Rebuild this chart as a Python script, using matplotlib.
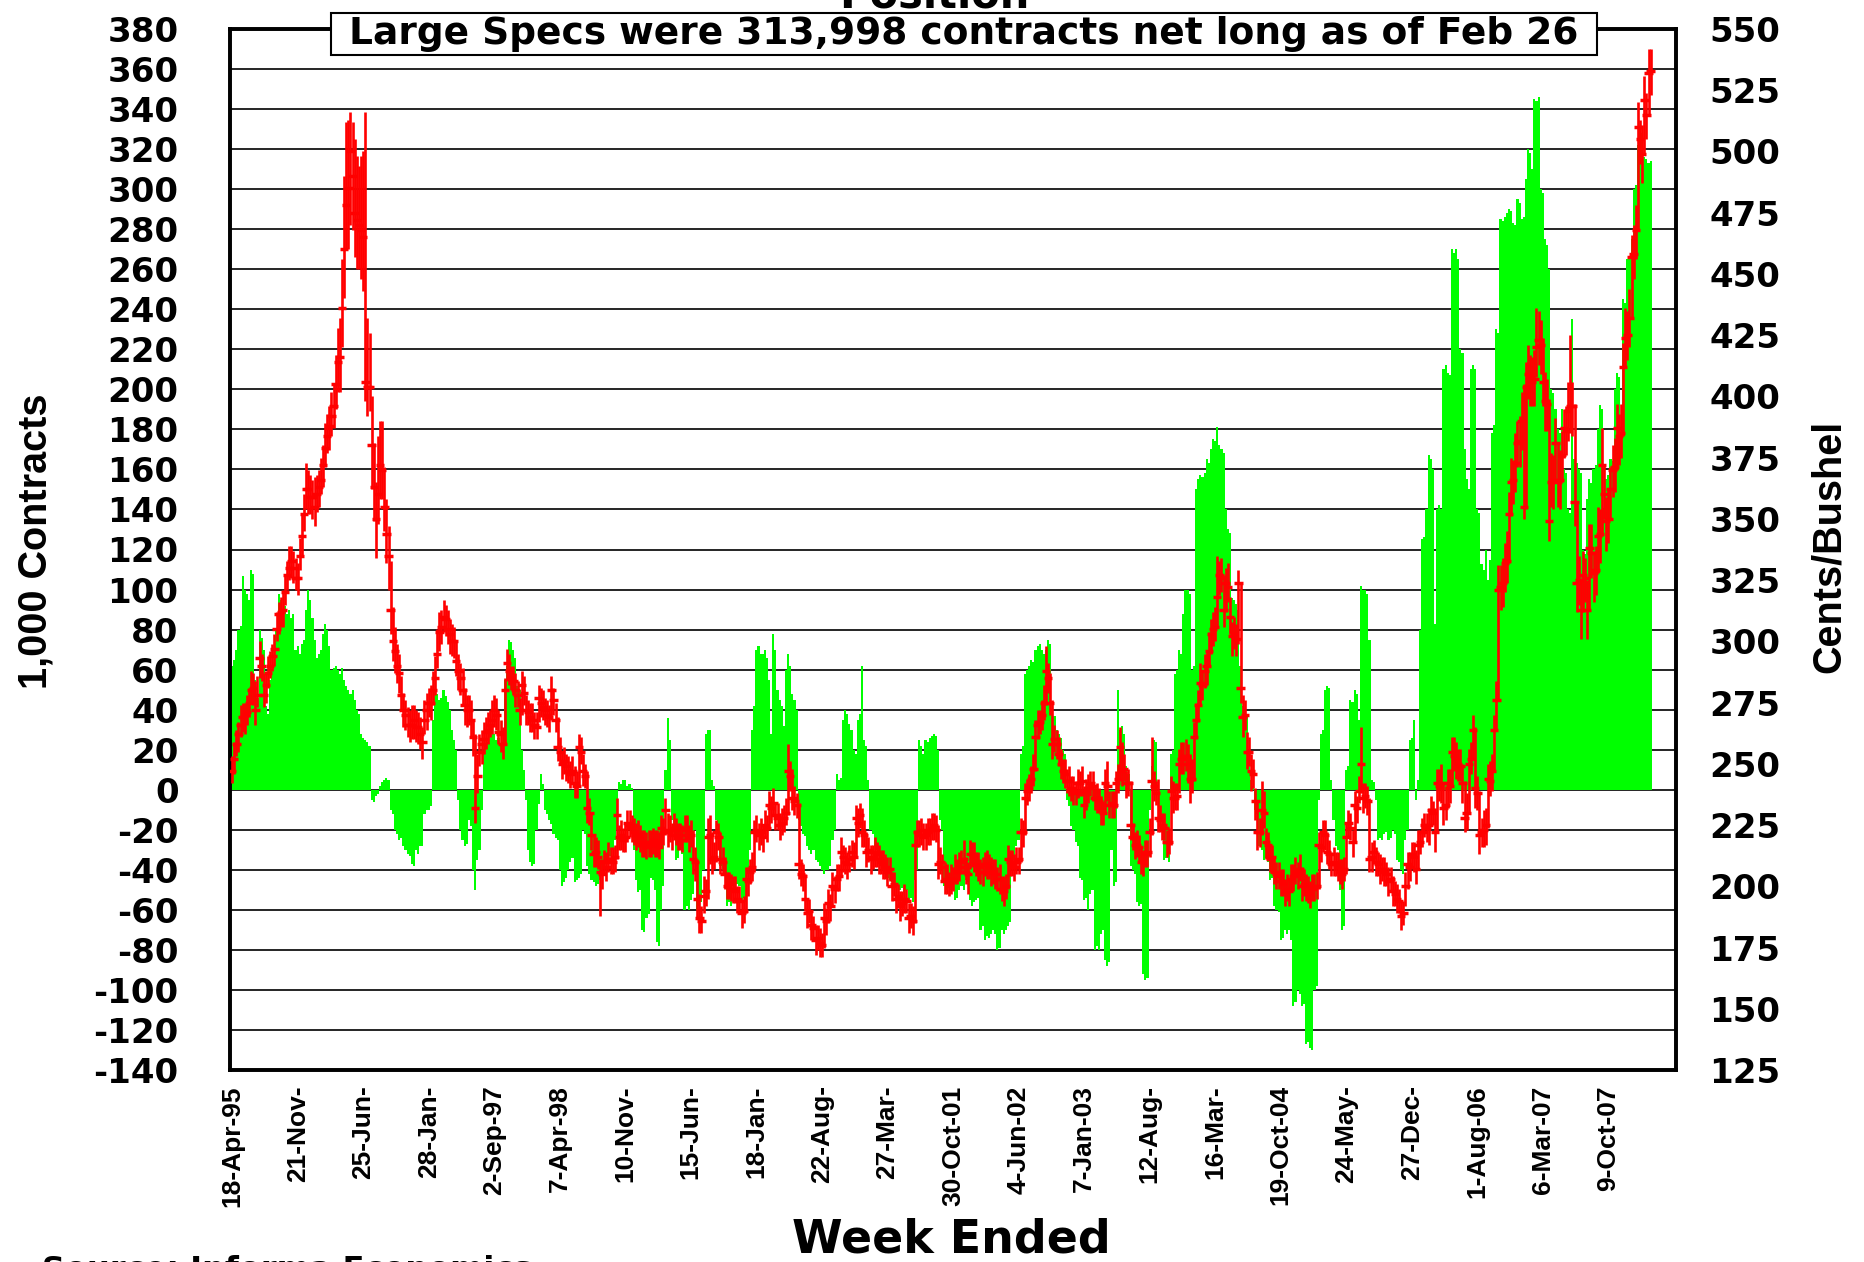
import matplotlib
matplotlib.use("Agg")
import matplotlib.pyplot as plt
import numpy as np
from matplotlib.patches import Rectangle

plt.rcParams['font.family'] = 'DejaVu Sans'
plt.rcParams['font.weight'] = 'bold'
plt.rcParams['axes.unicode_minus'] = False

# narrower face for the rotated texts
narrow = 'Liberation Sans'

# weekly data, 18-Apr-95 .. 26-Feb-08
# large spec net position, 1,000 contracts
net_long = [
    62, 65, 70, 80, 82, 107, 100, 98, 95, 110,
    108, 55, 46, 80, 76, 70, 42, 38, 55, 60,
    62, 80, 98, 95, 90, 92, 88, 90, 86, 88,
    70, 72, 68, 73, 75, 90, 100, 95, 86, 75,
    66, 68, 70, 78, 83, 80, 72, 60, 61, 62,
    60, 58, 61, 55, 52, 50, 48, 50, 45, 40,
    38, 28, 26, 25, 24, 22, -5, -6, -3, -2,
    2, 4, 5, 6, 5, -10, -12, -20, -22, -25,
    -24, -28, -30, -32, -33, -37, -38, -30, -32, -28,
    -28, -12, -10, -10, -8, 35, 50, 48, 45, 46,
    50, 47, 44, 40, 30, 25, 20, -5, -20, -25,
    -28, -27,
    -15, -18, -40, -50, -35, -30, -10, 18, 22, 24,
    33, 32, 28, 25, 26, 22, 24, 55, 62, 75,
    74, 70, 66, 52, 50, 20, 10, -5, -30, -36,
    -38, -37, -20, -7, 8, 3, -10, -12, -15, -17,
    -22, -24, -25, -40, -48, -46, -44, -40, -36, -34,
    -46, -45, -44, -42, -20, -22, -38, -42, -45, -46,
    -48, -47, -45, -40, -38, -37, -34, -33, -30, -25,
    -20, 4, 3, 5, 5, 2, 3, 1, -30, -45,
    -51, -50, -70, -71, -64, -62, -44, -45, -50, -76,
    -78, -60, -48, 10, 36, 25, -15, -20, -35, -34,
    -30, -32, -60, -58, -60, -55, -52, -20, -60, -58,
    -56, -40, 28, 30,
    30, 5, 2, -15, -18, -38, -40, -42, -58, -56,
    -58, -48, -50, -47, -48, -55, -54, -56, -40, -30,
    30, 42, 70, 72, 68, 68, 70, 66, 55, 28,
    78, 70, 50, 45, 42, 32, 60, 68, 62, 48,
    45, 40, -15, -18, -22, -23, -28, -30, -32, -30,
    -35, -36, -38, -40, -42, -40, -40, -38, -25, -20,
    8, 5, 6, 35, 40, 38, 33, 30, 20, 18,
    35, 38, 62, 25, 22, 5, -20, -22, -28, -30,
    -32, -38, -40, -42, -44, -45, -46, -48, -47, -48,
    -50, -49, -51, -50, -55, -54, -56, -45, -40, 25,
    22, 18, 25, 24, 26, 27, 28, 27, 20, -15,
    -20, -48, -50, -49, -50,
    -50, -55, -54, -50, -48, -50, -45, -46, -55, -58,
    -56, -55, -54, -70, -68, -75, -73, -74, -72, -70,
    -72, -80, -79, -70, -72, -70, -68, -66, -38, -35,
    -28, -25, 18, 22, 58, 60, 62, 65, 64, 70,
    72, 73, 70, 68, 70, 75, 73, 40, 37, 30,
    28, 26, 20, 18, -5, -8, -18, -20, -26, -28,
    -44, -45, -55, -54, -60, -52, -50, -80, -78, -80,
    -72, -70, -85, -88, -86, -30, -48, -46, 50, 30,
    32, 28, 12, 8, -38, -40, -42, -56, -58, -57,
    -92, -95, -94, -10, 12, 25, 24, 0, -14, -15,
    -35, -34, -36, 18, 20, 58, 60, 70, 68, 88, 100,
    100, 98, 60, 62, 150, 155, 157, 156, 158, 165,
    163, 170, 175, 174, 181, 172, 170, 168, 140, 130,
    128, 96, 95, 93, 90, 62, 42, 40, 38, 20,
    5, 2, -10, -12, -28, -30, -35, -34, -36, -45,
    -44, -58, -60, -61, -75, -74, -70, -72, -70, -75,
    -108, -106, -100, -102, -108, -107, -127, -126, -129, -130,
    -100, -98, -5, 28, 30, 50, 52, 51, 5, -15,
    -28, -30, -50, -70, -68, 10, 12, 45, 44, 50,
    48, 35, 102, 100, 100, 98, 75, 5, 4, -5,
    -25, -24, -25, -22, -21, -25, -24, -20, -22, -35,
    -36, -40, -42, -25, -20, 25, 26, 35, -5, 5,
    80, 125, 126, 140, 167,
    165, 160, 83, 140, 142, 140, 210, 212, 208, 207,
    270, 268, 270, 265, 220, 218, 170, 155, 150, 210,
    212, 210, 140, 138, 113, 110, 120, 105, 115, 178,
    182, 230, 228, 285, 284, 286, 288, 290, 289, 283,
    282, 295, 293, 285, 286, 305, 320, 318, 310, 345,
    344, 346, 300, 298, 275, 272, 260, 200, 198, 190,
    180, 178, 190, 160, 158, 140, 138, 235, 165, 163,
    160, 158, 120, 118, 145, 155, 153, 160, 162, 180,
    192, 190, 140, 155, 157, 165, 164, 200, 208, 206,
    178, 245, 243, 265, 266, 275, 300, 302, 322, 330,
    328, 316, 315, 313, 314,
]

# weekly close, cents/bushel
price_close = [
    247, 252, 258, 262, 266, 269, 270, 271, 275, 280,
    281, 272, 278, 293, 290, 278, 282, 287, 290, 294,
    297, 305, 311, 312, 313, 320, 327, 330, 333, 330,
    326, 326, 335, 343, 352, 362, 362, 359, 359, 355,
    360, 363, 366, 372, 379, 384, 388, 392, 396, 405,
    414, 416, 436, 460, 478, 485, 500, 490, 475, 472,
    470, 468, 465, 406, 404, 404, 380, 363, 350, 360,
    372, 370, 355, 344, 335, 313, 300, 296, 290, 287,
    278, 272, 270, 266, 266, 266, 268, 265, 265, 262,
    259, 268, 272, 275, 275, 280, 285, 295, 304, 306,
    310, 309, 305, 303, 300, 300, 292, 288, 285, 280,
    274, 272,
    272, 268, 261, 232, 245, 255, 258, 260, 263, 264,
    266, 268, 272, 270, 263, 262, 258, 280, 291, 288,
    285, 284, 280, 278, 272, 282, 279, 272, 271, 269,
    268, 266, 265, 277, 275, 273, 272, 270, 269, 280,
    276, 268, 257, 255, 250, 251, 249, 247, 246, 247,
    242, 241, 257, 255, 247, 245, 232, 230, 221, 213,
    214, 212, 206, 205, 210, 208, 211, 211, 210, 212,
    229, 220, 221, 219, 220, 226, 225, 224, 222, 221,
    221, 220, 217, 218, 216, 218, 217, 219, 217, 218,
    216, 224, 222, 231, 222, 223, 221, 224, 223, 220,
    221, 219, 224, 223, 220, 221, 211, 210, 195, 187,
    186, 196, 198, 220,
    221, 211, 212, 222, 220, 211, 210, 205, 200, 201,
    199, 199, 198, 195, 194, 189, 190, 203, 202, 206,
    208, 222, 223, 221, 222, 220, 225, 224, 233, 232,
    234, 229, 228, 225, 226, 228, 230, 247, 245, 236,
    235, 233, 209, 205, 204, 195, 189, 190, 184, 183,
    178, 179, 177, 176, 187, 186, 193, 192, 200, 199,
    203, 204, 214, 212, 210, 209, 211, 214, 212, 228,
    226, 229, 222, 221, 214, 215, 211, 212, 214, 213,
    211, 210, 209, 208, 206, 207, 200, 201, 195, 196,
    192, 193, 195, 194, 187, 188, 186, 217, 222, 221,
    223, 220, 221, 222, 223, 224, 225, 223, 209, 210,
    208, 202, 203, 201, 203,
    203, 207, 206, 208, 210, 211, 206, 205, 213, 213,
    212, 209, 208, 206, 206, 209, 209, 208, 206, 206,
    205, 203, 203, 199, 198, 200, 211, 210, 209, 208,
    210, 211, 222, 222, 236, 239, 240, 244, 248, 261,
    266, 267, 270, 275, 288, 285, 275, 258, 260, 258,
    254, 250, 247, 246, 243, 243, 240, 239, 238, 242,
    242, 243, 233, 239, 240, 242, 241, 236, 236, 235,
    231, 230, 242, 241, 233, 234, 233, 242, 244, 257,
    247, 248, 242, 242, 225, 220, 217, 217, 216, 210,
    210, 213, 214, 222, 243, 241, 238, 228, 227, 225,
    224, 218, 218, 239, 236, 236, 237, 250, 252, 253, 253,
    250, 244, 244, 261, 268, 274, 283, 282, 288, 290,
    296, 303, 305, 306, 318, 327, 326, 313, 324, 322,
    310, 302, 303, 301, 324, 281, 269, 270, 255, 255,
    247, 246, 235, 222, 222, 231, 230, 218, 217, 211,
    212, 206, 205, 204, 202, 201, 198, 199, 198, 203,
    204, 206, 205, 207, 200, 201, 200, 198, 197, 199,
    200, 200, 217, 216, 222, 221, 214, 213, 209, 210,
    209, 208, 206, 205, 207, 220, 226, 224, 218, 233,
    232, 239, 250, 236, 237, 235, 211, 212, 214, 210,
    209, 207, 207, 206, 205, 202, 203, 198, 197, 195,
    194, 188, 189, 200, 209, 208, 213, 212, 207, 217,
    218, 222, 225, 224, 225,
    231, 230, 222, 242, 241, 242, 232, 233, 242, 241,
    255, 253, 252, 250, 249, 242, 228, 230, 250, 252,
    264, 240, 238, 221, 222, 223, 225, 244, 243, 247,
    264, 276, 321, 322, 324, 332, 333, 352, 365, 366,
    373, 381, 382, 390, 355, 404, 409, 408, 406, 407,
    420, 423, 421, 406, 398, 397, 349, 365, 366, 381,
    365, 366, 376, 387, 386, 394, 396, 396, 357, 324,
    325, 313, 327, 326, 313, 338, 336, 328, 329, 343,
    344, 372, 360, 349, 350, 362, 370, 371, 387, 384,
    385, 412, 424, 425, 432, 457, 458, 468, 510, 505,
    499, 521, 515, 532, 533,
]

# weekly high above close / low below close, cents
price_up = [
    6, 7, 6, 5, 8, 6, 5, 7, 6, 8,
    6, 12, 8, 7, 5, 9, 6, 7, 6, 5,
    6, 7, 5, 6, 8, 7, 6, 9, 6, 7,
    8, 6, 7, 9, 8, 11, 8, 9, 7, 12,
    8, 7, 9, 8, 10, 9, 8, 10, 9, 12,
    14, 16, 20, 30, 34, 28, 16, 22, 30, 26,
    24, 30, 35, 110, 28, 22, 20, 18, 15, 24,
    18, 20, 16, 14, 12, 20, 14, 10, 9, 8,
    8, 7, 6, 7, 6, 8, 6, 7, 6, 7,
    6, 8, 7, 6, 7, 8, 9, 10, 8, 7,
    7, 6, 8, 6, 7, 6, 8, 7, 6, 9,
    7, 6, 6, 8, 7, 30, 9, 7, 6, 7,
    6, 7, 6, 8, 6, 7, 9, 6, 7, 5,
    6, 7, 5, 6, 7, 6, 5, 6, 7, 6,
    5, 6, 7, 5, 6, 5, 6, 7, 5, 6,
    5, 6, 5, 7, 12, 6, 5, 6, 5, 6,
    5, 6, 7, 6, 5, 6, 7, 5, 15, 6,
    9, 8, 6, 7, 5, 6, 5, 6, 7, 5,
    6, 5, 7, 5, 6, 5, 6, 5, 6, 5,
    6, 5, 6, 5, 6, 5, 6, 5, 6, 5,
    6, 5, 6, 5, 6, 5, 8, 6, 5, 6,
    5, 6, 5, 6, 5, 6, 5, 6, 12, 6,
    16, 10, 6, 8, 5, 8, 8, 11, 6, 5,
    6, 11, 6, 7, 6, 5, 6, 5, 6, 5,
    6, 5, 6, 5, 6, 5, 6, 5, 6, 5,
    6, 5, 6, 5, 6, 5, 6, 5, 6, 5,
    6, 5, 6, 11, 6, 12, 6, 5, 25, 6,
    5, 10, 6, 5, 6, 5, 6, 5, 6, 5,
    6, 5, 6, 5, 6, 5, 6, 5, 6, 5,
    6, 5, 6, 5, 6, 5, 6, 5, 10, 6,
    8, 5, 6, 5, 6, 5, 6, 5, 6, 5,
    6, 5, 6, 5, 6, 5, 6, 5, 6, 5,
    6, 5, 6, 6, 5, 6, 5, 6, 5, 6,
    5, 6, 5, 6, 16, 6, 5, 8, 6, 5,
    6, 5, 6, 5, 6, 5, 8, 6, 5, 6,
    5, 6, 5, 6, 5, 6, 5, 6, 5, 6,
    5, 6, 5, 6, 5, 6, 5, 6, 5, 6,
    5, 6, 5, 6, 5, 6, 5, 6, 5, 6,
    7, 6, 5, 6, 7, 10, 6, 12, 18, 6,
    6, 7, 6, 5, 6, 5, 6, 5, 6, 5,
    6, 5, 6, 8, 5, 6, 5, 6, 5, 6,
    5, 6, 5, 6, 10, 6, 5, 6, 5, 6,
    8, 12, 6, 5, 6, 18, 6, 5, 6, 5,
    6, 5, 6, 5, 6, 18, 6, 5, 16, 6,
    5, 6, 5, 6, 6, 7, 6, 5, 6, 7,
    6, 7, 8, 10, 8, 6, 7, 6, 8, 6,
    7, 6, 8, 6, 7, 8, 17, 6, 8, 14,
    6, 10, 8, 6, 7, 6, 5, 43, 9, 6,
    8, 6, 7, 6, 5, 13, 6, 12, 9, 6,
    5, 6, 5, 6, 5, 6, 5, 6, 5, 6,
    5, 6, 5, 6, 5, 6, 8, 6, 5, 6,
    5, 6, 5, 6, 5, 6, 5, 6, 8, 6,
    5, 6, 5, 6, 5, 6, 5, 6, 5, 6,
    5, 6, 5, 6, 15, 6, 5, 6, 25, 6,
    5, 6, 5, 6, 5, 6, 5, 6, 5, 6,
    5, 6, 5, 6, 5, 6, 5, 6, 5, 6,
    8, 6, 5, 6, 5, 6, 7, 6, 5, 10,
    6, 7, 8, 10, 8, 6, 7, 6, 8, 7,
    6, 7, 8, 15, 8, 6, 7, 6, 25, 7,
    18, 6, 8, 7, 6, 8, 7, 6, 8, 10,
    9, 10, 8, 12, 9, 10, 8, 12, 9, 10,
    12, 50, 10, 12, 9, 10, 12, 16, 12, 10,
    18, 12, 10, 50, 12, 10, 10, 16, 12, 10,
    8, 10, 12, 29, 10, 40, 33, 10, 12, 10,
    8, 12, 10, 12, 9, 10, 12, 10, 15, 12,
    10, 12, 9, 10, 12, 10, 9, 12, 10, 12,
    10, 12, 9, 12, 10, 10, 8, 12, 10, 9,
    10, 9,
]
price_dn = [
    5, 6, 5, 7, 5, 6, 8, 5, 6, 5,
    7, 6, 5, 8, 6, 5, 7, 6, 5, 6,
    7, 5, 8, 6, 7, 5, 6, 5, 7, 6,
    5, 7, 6, 8, 7, 8, 10, 7, 9, 8,
    7, 8, 6, 9, 8, 7, 10, 8, 9, 10,
    12, 14, 16, 20, 18, 25, 30, 22, 18, 20,
    18, 20, 22, 8, 12, 10, 18, 14, 16, 12,
    14, 12, 10, 12, 14, 10, 8, 9, 7, 8,
    6, 7, 6, 5, 7, 6, 8, 6, 7, 6,
    7, 6, 8, 6, 7, 6, 7, 6, 8, 7,
    6, 7, 6, 8, 6, 7, 6, 8, 7, 6,
    8, 7, 6, 7, 8, 6, 7, 6, 8, 6,
    7, 6, 5, 6, 7, 6, 5, 7, 6, 22,
    7, 6, 5, 6, 7, 5, 6, 12, 5, 6,
    5, 6, 5, 6, 5, 10, 6, 5, 6, 5,
    6, 12, 6, 5, 6, 5, 6, 5, 6, 5,
    6, 5, 6, 5, 16, 5, 6, 5, 6, 5,
    6, 5, 6, 5, 18, 6, 5, 6, 5, 6,
    5, 6, 18, 5, 6, 5, 6, 8, 5, 6,
    5, 6, 5, 6, 5, 6, 5, 6, 5, 6,
    5, 6, 5, 8, 5, 10, 6, 5, 6, 5,
    6, 5, 6, 5, 6, 5, 6, 5, 6, 8,
    8, 6, 5, 7, 6, 25, 12, 6, 5, 12,
    5, 6, 5, 6, 5, 6, 5, 6, 5, 6,
    5, 6, 5, 14, 6, 5, 6, 16, 5, 6,
    5, 6, 5, 6, 10, 6, 5, 6, 5, 6,
    5, 6, 5, 18, 6, 5, 6, 5, 6, 5,
    6, 5, 6, 5, 6, 5, 6, 5, 6, 5,
    12, 6, 8, 6, 8, 6, 5, 6, 10, 6,
    5, 6, 5, 6, 5, 16, 6, 5, 6, 5,
    6, 5, 6, 5, 6, 5, 6, 5, 6, 5,
    6, 5, 6, 5, 6, 5, 6, 5, 6, 5,
    6, 5, 6, 32, 6, 5, 6, 5, 6, 5,
    6, 5, 6, 5, 6, 5, 6, 5, 6, 5,
    6, 5, 6, 5, 6, 5, 6, 5, 8, 6,
    5, 6, 5, 6, 5, 6, 5, 6, 5, 6,
    5, 6, 5, 6, 5, 6, 5, 12, 6, 5,
    6, 5, 6, 12, 6, 15, 6, 5, 6, 7,
    14, 6, 5, 6, 7, 14, 6, 5, 6, 5,
    6, 5, 6, 5, 6, 5, 6, 5, 6, 5,
    6, 5, 6, 5, 8, 6, 5, 6, 5, 6,
    5, 6, 5, 12, 6, 5, 6, 5, 10, 6,
    14, 6, 5, 6, 5, 6, 5, 6, 5, 6,
    5, 6, 5, 6, 10, 22, 6, 5, 6, 5,
    6, 5, 6, 5, 22, 6, 5, 6, 12, 6,
    7, 6, 8, 10, 6, 18, 8, 7, 9, 6,
    7, 8, 6, 8, 7, 6, 12, 8, 6, 7,
    12, 6, 7, 8, 6, 7, 25, 6, 8, 6,
    7, 6, 8, 6, 8, 7, 6, 10, 6, 7,
    6, 5, 6, 5, 6, 5, 6, 5, 6, 5,
    6, 5, 6, 5, 6, 5, 6, 5, 6, 5,
    6, 5, 6, 5, 18, 6, 8, 6, 5, 6,
    5, 6, 5, 6, 5, 6, 5, 15, 6, 5,
    6, 15, 6, 5, 12, 6, 5, 6, 5, 6,
    5, 6, 5, 6, 5, 6, 5, 6, 5, 6,
    5, 6, 5, 6, 5, 8, 10, 6, 5, 6,
    6, 10, 5, 6, 5, 6, 8, 6, 5, 8,
    20, 6, 8, 7, 6, 10, 7, 14, 6, 8,
    7, 6, 8, 6, 7, 20, 6, 12, 8, 7,
    8, 6, 7, 8, 20, 6, 8, 17, 12, 45,
    9, 10, 12, 9, 20, 14, 10, 12, 10, 11,
    12, 5, 50, 10, 12, 10, 11, 12, 10, 12,
    10, 12, 11, 8, 10, 12, 16, 10, 12, 11,
    12, 10, 12, 11, 12, 10, 12, 10, 12, 15,
    10, 12, 25, 10, 12, 10, 15, 12, 29, 10,
    12, 10, 12, 11, 10, 17, 12, 10, 28, 12,
    10, 12, 25, 10, 12, 42, 10, 12, 22, 10,
    17, 10,
]

x_labels = ['18-Apr-95', '21-Nov-', '25-Jun-', '28-Jan-', '2-Sep-97', '7-Apr-98',
            '10-Nov-', '15-Jun-', '18-Jan-', '22-Aug-', '27-Mar-', '30-Oct-01',
            '4-Jun-02', '7-Jan-03', '12-Aug-', '16-Mar-', '19-Oct-04', '24-May-',
            '27-Dec-', '1-Aug-06', '6-Mar-07', '9-Oct-07']
left_ticks = list(range(-140, 381, 20))
right_ticks = list(range(125, 551, 25))

assert len(net_long) == len(price_close) == len(price_up) == len(price_dn) == 672

weeks = np.arange(len(net_long))
close = np.array(price_close, dtype=float)
hi = close + np.array(price_up)
lo = close - np.array(price_dn)

W, H = 1865, 1262
fig = plt.figure(figsize=(W / 100, H / 100), dpi=100)
ax = fig.add_axes([230 / W, 1 - 1070 / H, 1446 / W, 1041 / H])

ax.bar(weeks, net_long, width=1.0, color='#00FF00', linewidth=0, zorder=2)
ax.set_xlim(-1, 683)
ax.set_ylim(-140, 380)
ax.set_yticks(left_ticks)
ax.set_yticklabels([str(v) for v in left_ticks])
ax.grid(axis='y', color='black', linewidth=1.2)
ax.set_axisbelow(True)
ax.tick_params(axis='y', length=0, pad=37, labelsize=24.5)
ax.set_xticks(np.arange(0, 672, 31))
ax.set_xticklabels(x_labels, rotation=90, family=narrow, fontsize=19, weight='bold')
ax.tick_params(axis='x', length=0, pad=11)
for s in ax.spines.values():
    s.set_linewidth(2.6)

ax2 = ax.twinx()
ax2.set_ylim(125, 550)
ax2.set_yticks(right_ticks)
ax2.set_yticklabels([str(v) for v in right_ticks])
ax2.tick_params(axis='y', length=0, pad=24, labelsize=24.5)
ax2.vlines(weeks, lo, hi, colors='#FF0000', linewidth=1.9, zorder=3)
ax2.hlines(close, weeks - 2.0, weeks + 2.0, colors='#FF0000', linewidth=2.5, zorder=3)
for s in ax2.spines.values():
    s.set_linewidth(2.6)

fig.text(36 / W, 1 - 541 / H, '1,000 Contracts', rotation=90, ha='center', va='center',
         fontsize=28.5, family=narrow, weight='bold')
fig.text(1829 / W, 1 - 546 / H, 'Cents/Bushel', rotation=90, ha='center', va='center',
         fontsize=28.5, family=narrow, weight='bold')
fig.text(951 / W, 1 - 1240 / H, 'Week Ended', ha='center', va='center', fontsize=33)
fig.text(934 / W, 1 - 8 / H, 'Position', ha='center', va='baseline', fontsize=30)
fig.text(42 / W, 1 - 1255 / H, 'Source: Informa Economics', ha='left', va='top', fontsize=23)

box = Rectangle((331 / W, 1 - 55 / H), 1266 / W, 42 / H, transform=fig.transFigure,
                facecolor='white', edgecolor='black', linewidth=1.5, zorder=5)
fig.patches.append(box)
fig.text(964 / W, 1 - 34 / H, 'Large Specs were 313,998 contracts net long as of Feb 26',
         ha='center', va='center', fontsize=27, zorder=6)

fig.savefig('out.png', dpi=100)
